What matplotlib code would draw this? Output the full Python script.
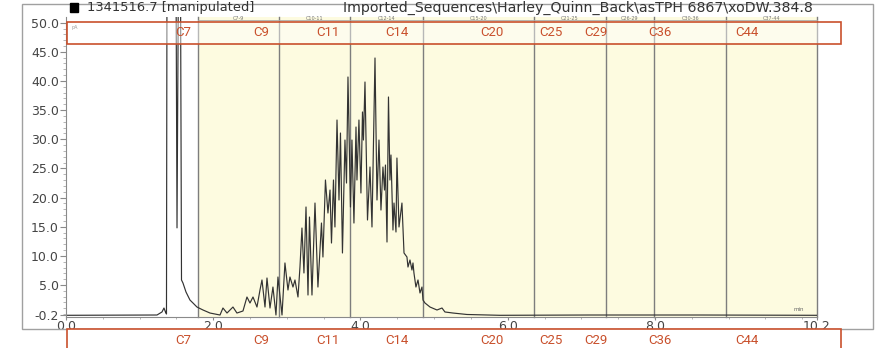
import matplotlib.pyplot as plt
from matplotlib.patches import Rectangle
from matplotlib.ticker import FixedLocator, MultipleLocator

# chromatogram trace (retention time in min, signal in pA)
rt = [0.00, 1.236, 1.304, 1.331, 1.351, 1.365, 1.372, 1.494, 1.508, 1.528, 1.555,
      1.569, 1.589, 1.630, 1.684, 1.725, 1.779, 1.861, 1.956, 2.092, 2.132, 2.187,
      2.268, 2.322, 2.404, 2.458, 2.499, 2.540, 2.594, 2.635, 2.662, 2.703, 2.730,
      2.771, 2.811, 2.852, 2.879, 2.934, 2.974, 3.015, 3.042, 3.083, 3.110, 3.151,
      3.178, 3.205, 3.232, 3.260, 3.287, 3.307, 3.341, 3.382, 3.422, 3.470, 3.490,
      3.524, 3.558, 3.586, 3.606, 3.633, 3.653, 3.681, 3.708, 3.728, 3.755, 3.789,
      3.810, 3.830, 3.864, 3.884, 3.911, 3.939, 3.952, 3.979, 4.006, 4.027, 4.040,
      4.061, 4.095, 4.129, 4.156, 4.197, 4.224, 4.251, 4.278, 4.305, 4.326, 4.339,
      4.360, 4.380, 4.400, 4.414, 4.441, 4.455, 4.482, 4.495, 4.523, 4.563, 4.591,
      4.631, 4.645, 4.672, 4.699, 4.713, 4.726, 4.753, 4.781, 4.808, 4.835, 4.849,
      4.876, 4.944, 5.039, 5.107, 5.147, 5.256, 5.446, 5.894, 7.117, 8.611, 10.2]
signal = [-0.20, -0.15, 0.37, 1.05, 0.37, 0.02, 60.0, 60.0, 14.8, 60.0, 60.0,
          5.86, 5.34, 3.80, 2.42, 1.91, 1.22, 0.71, 0.19, -0.15, 1.05, 0.19,
          1.22, 0.19, 0.54, 2.94, 1.91, 2.94, 1.22, 4.14, 5.86, 1.22, 6.20,
          1.05, 4.65, -0.15, 6.37, -0.15, 8.78, 4.14, 6.37, 4.65, 5.86, 2.94,
          8.08, 14.77, 7.06, 18.38, 3.28, 16.66, 3.28, 19.06, 4.65, 15.63, 9.80,
          23.01, 17.35, 21.29, 12.20, 23.01, 14.95, 33.30, 19.58, 31.07, 10.49, 29.87,
          22.49, 40.68, 18.38, 29.87, 15.63, 32.10, 23.01, 33.30, 20.78, 34.68, 29.87,
          39.82, 16.15, 25.24, 14.95, 43.94, 19.58, 29.87, 17.86, 25.24, 21.29, 25.58,
          12.37, 37.25, 23.01, 27.30, 14.43, 19.06, 14.09, 26.78, 14.95, 19.06, 10.49,
          9.80, 8.08, 9.29, 7.57, 8.78, 7.06, 4.65, 5.86, 3.63, 4.65, 2.42,
          1.91, 1.22, 0.71, 1.05, 0.37, 0.19, -0.06, -0.20, -0.15, -0.15, -0.20]

# carbon range windows
bounds = [1.79, 2.89, 3.86, 4.85, 6.36, 7.33, 7.99, 8.97, 10.2]
ranges = ['C7-9', 'C10-11', 'C12-14', 'C15-20', 'C21-25', 'C26-29', 'C30-36', 'C37-44']

# carbon number markers
markers = ['C7', 'C9', 'C11', 'C14', 'C20', 'C25', 'C29', 'C36', 'C44']
marker_rt = [1.59, 2.65, 3.56, 4.50, 5.79, 6.59, 7.20, 8.07, 9.25]

xticks = [0.0, 2.0, 4.0, 6.0, 8.0, 10.2]
yticks = [-0.2, 5.0, 10.0, 15.0, 20.0, 25.0, 30.0, 35.0, 40.0, 45.0, 50.0]

red = '#c9502c'
grey = '#8a8a8a'

fig = plt.figure(figsize=(8.82, 3.48), dpi=100)
ax = fig.add_axes([0.0748, 0.0891, 0.8515, 0.862])

# yellow windows and their borders
ax.axvspan(bounds[0], bounds[-1], color='#fdfbe0', lw=0)
for b in bounds:
    ax.axvline(b, color='#7d7d7d', lw=1, clip_on=False)
for i in range(len(ranges)):
    ax.text((bounds[i] + bounds[i + 1]) / 2, 50.75, ranges[i], fontsize=3.5,
            color='#777', ha='center', va='center')
ax.plot([bounds[0], bounds[-1]], [50.45, 50.45], color='#aaa', lw=0.6, clip_on=False)

ax.plot(rt, signal, color='#333333', lw=0.85)

ax.set_xlim(0, 10.2)
ax.set_ylim(-0.49, 50.97)
ax.xaxis.set_major_locator(FixedLocator(xticks))
ax.xaxis.set_minor_locator(MultipleLocator(0.5))
ax.yaxis.set_major_locator(FixedLocator(yticks))
ax.yaxis.set_minor_locator(MultipleLocator(1))
ax.set_xticklabels(['%.1f' % t for t in xticks])
ax.set_yticklabels(['%.1f' % t for t in yticks])
ax.tick_params(which='major', length=4, width=0.8, color=grey, labelcolor='#444',
               labelsize=9, pad=1)
ax.tick_params(which='minor', length=2, width=0.6, color='#aaa')
ax.tick_params(axis='x', which='major', length=2, pad=0)
ax.tick_params(axis='x', which='minor', length=1.5)
for s in ['top', 'right']:
    ax.spines[s].set_visible(False)
for s in ['left', 'bottom']:
    ax.spines[s].set_color(grey)

ax.text(9.95, 0.3, 'min', fontsize=4, color='#666', ha='center', va='bottom')

# outer frame of the report
fig.patches.append(Rectangle((22 / 882, 19 / 348), 851 / 882, 325 / 348, transform=fig.transFigure,
                             fill=False, ec='#a0a0a0', lw=1))

# title line
fig.patches.append(Rectangle((70 / 882, 336 / 348), 8 / 882, 9 / 348, transform=fig.transFigure,
                             color='black'))
fig.text(87 / 882, 340 / 348, '1341516.7 [manipulated]', fontsize=9.4, color='#333',
         family='DejaVu Sans', va='center', ha='left')
fig.text(813 / 882, 340 / 348, 'Imported_Sequences\\Harley_Quinn_Back\\asTPH 6867\\xoDW.384.8',
         fontsize=10.2, color='#333', family='DejaVu Sans', va='center', ha='right')

# red marker boxes, top and bottom
fig.patches.append(Rectangle((67 / 882, 304 / 348), 774 / 882, 22 / 348, transform=fig.transFigure,
                             fc=(1, 1, 1, 0.45), ec=red, lw=1.2))
fig.patches.append(Rectangle((67 / 882, -0.05), 774 / 882, 0.05 + 19 / 348, transform=fig.transFigure,
                             fc='white', ec=red, lw=1.2))
fig.text(72 / 882, 321 / 348, 'pA', fontsize=3.5, color='#999', va='center')

for name, t in zip(markers, marker_rt):
    x = ax.transData.transform((t, 0))[0] / fig.bbox.width
    fig.text(x, 315 / 348, name, fontsize=9.5, color=red, family='Roboto',
             ha='center', va='center')
    fig.text(x, 8 / 348, name, fontsize=9.5, color=red, family='Roboto',
             ha='center', va='center')

plt.savefig('out.png', dpi=100)
